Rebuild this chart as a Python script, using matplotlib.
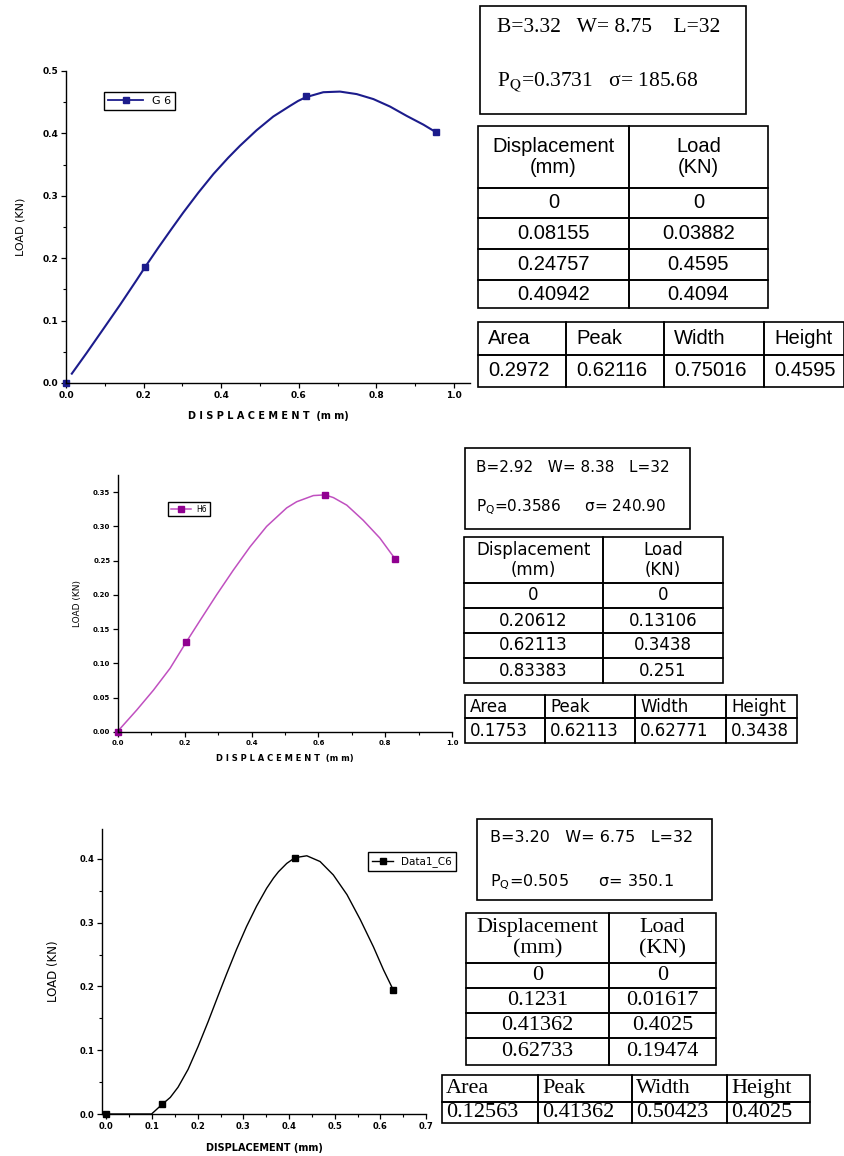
import matplotlib
matplotlib.use("Agg")
import matplotlib.pyplot as plt
from matplotlib.patches import Rectangle
from matplotlib.ticker import MultipleLocator, FormatStrFormatter

# ---------------- données ----------------
g6_x = [0.0, 0.204, 0.618, 0.953]
g6_y = [0.0, 0.186, 0.460, 0.402]
g6_curve_x = [0.015, 0.053, 0.100, 0.139, 0.182, 0.204, 0.238, 0.272, 0.302, 0.341,
              0.380, 0.418, 0.448, 0.491, 0.534, 0.577, 0.598, 0.618, 0.663, 0.706,
              0.749, 0.792, 0.835, 0.878, 0.921, 0.953]
g6_curve_y = [0.015, 0.048, 0.090, 0.125, 0.165, 0.186, 0.217, 0.247, 0.273, 0.305,
              0.335, 0.361, 0.380, 0.405, 0.427, 0.444, 0.452, 0.458, 0.466, 0.467,
              0.463, 0.455, 0.443, 0.428, 0.414, 0.402]

# H6
h6_x = [0.0, 0.204, 0.620, 0.829]
h6_y = [0.0, 0.131, 0.346, 0.253]
h6_curve_x = [0.001, 0.056, 0.106, 0.156, 0.204, 0.246, 0.295, 0.345, 0.395,
              0.445, 0.485, 0.505, 0.535, 0.585, 0.620, 0.645, 0.685, 0.734, 0.784,
              0.829]
h6_curve_y = [0.002, 0.032, 0.061, 0.093, 0.131, 0.163, 0.200, 0.236, 0.270,
              0.300, 0.318, 0.327, 0.336, 0.345, 0.346, 0.342, 0.331, 0.309, 0.283,
              0.253]

# Data1_C6
c6_x = [0.0, 0.122, 0.413, 0.628]
c6_y = [0.0, 0.015, 0.402, 0.195]
c6_curve_x = [0.0, 0.099, 0.122, 0.140, 0.157, 0.179, 0.201, 0.223, 0.245, 0.263,
              0.285, 0.307, 0.329, 0.351, 0.366, 0.377, 0.395, 0.413, 0.439, 0.468,
              0.497, 0.527, 0.556, 0.585, 0.607, 0.628]
c6_curve_y = [0.0, 0.0, 0.015, 0.026, 0.042, 0.070, 0.106, 0.145, 0.186, 0.219,
              0.258, 0.294, 0.326, 0.354, 0.370, 0.380, 0.393, 0.402, 0.405, 0.396,
              0.375, 0.344, 0.305, 0.262, 0.226, 0.195]

# tableaux
g6_params = ["B=3.32   W= 8.75    L=32", r"P$_{\rm Q}$=0.3731   σ= 185.68"]
g6_disp = ["0", "0.08155", "0.24757", "0.40942"]
g6_load = ["0", "0.03882", "0.4595", "0.4094"]
g6_peak = ["0.2972", "0.62116", "0.75016", "0.4595"]

h6_params = ["B=2.92   W= 8.38   L=32", r"P$_{\rm Q}$=0.3586     σ= 240.90"]
h6_disp = ["0", "0.20612", "0.62113", "0.83383"]
h6_load = ["0", "0.13106", "0.3438", "0.251"]
h6_peak = ["0.1753", "0.62113", "0.62771", "0.3438"]

c6_params = ["B=3.20   W= 6.75   L=32", r"P$_{\rm Q}$=0.505      σ= 350.1"]
c6_disp = ["0", "0.1231", "0.41362", "0.62733"]
c6_load = ["0", "0.01617", "0.4025", "0.19474"]
c6_peak = ["0.12563", "0.41362", "0.50423", "0.4025"]

table_header = ["Displacement\n(mm)", "Load\n(KN)"]
peak_header = ["Area", "Peak", "Width", "Height"]

# ---------------- mise en page ----------------
W, H = 845, 1156
fig = plt.figure(figsize=(W / 100, H / 100), dpi=100)


def px_axes(left, top, right, bottom):
    return fig.add_axes([left / W, 1 - bottom / H, (right - left) / W, (bottom - top) / H])


def style_axes(ax, xmaj, xmin, ymaj, ymin, xfmt, yfmt, tsize):
    for s in ["top", "right"]:
        ax.spines[s].set_visible(False)
    for s in ["left", "bottom"]:
        ax.spines[s].set_linewidth(1.0)
    ax.xaxis.set_major_locator(MultipleLocator(xmaj))
    ax.xaxis.set_minor_locator(MultipleLocator(xmin))
    ax.yaxis.set_major_locator(MultipleLocator(ymaj))
    ax.yaxis.set_minor_locator(MultipleLocator(ymin))
    ax.xaxis.set_major_formatter(FormatStrFormatter(xfmt))
    ax.yaxis.set_major_formatter(FormatStrFormatter(yfmt))
    ax.tick_params(which="major", direction="out", length=3.5, width=0.9,
                   labelsize=tsize, pad=2)
    ax.tick_params(which="minor", direction="out", length=2, width=0.8)
    for lab in ax.get_xticklabels() + ax.get_yticklabels():
        lab.set_fontweight("bold")


# ---- graphe 1 : G6
ax1 = px_axes(66, 71, 470, 383)
ax1.plot(g6_curve_x, g6_curve_y, color="#1c1c8c", lw=1.5)
ax1.plot(g6_x, g6_y, ls="none", marker="s", ms=5, color="#1c1c8c", clip_on=False)
ax1.plot([], [], color="#1c1c8c", lw=1.3, marker="s", ms=5, label="G 6")
ax1.set_xlim(0, 1.041)
ax1.set_ylim(0, 0.5)
style_axes(ax1, 0.2, 0.1, 0.1, 0.05, "%.1f", "%.1f", 6.5)
ax1.set_xlabel("D I S P L A C E M E N T  (m m)", fontsize=7, fontweight="bold", labelpad=8)
ax1.set_ylabel("LOAD (KN)", fontsize=8, labelpad=12)
ax1.legend(loc="upper left", bbox_to_anchor=(0.094, 0.933), borderaxespad=0,
           fancybox=False, edgecolor="black", framealpha=1, fontsize=8,
           handlelength=3.2, borderpad=0.35).get_frame().set_linewidth(1.0)

# ---- graphe 2 : H6
ax2 = px_axes(118, 475, 452, 732)
ax2.plot(h6_curve_x, h6_curve_y, color="#c050c0", lw=1.1)
ax2.plot(h6_x, h6_y, ls="none", marker="s", ms=4, color="#900090", clip_on=False)
ax2.plot([], [], color="#c050c0", lw=1.1, marker="s", ms=4, mfc="#900090",
         mec="#900090", label="H6")
ax2.set_xlim(0, 1.0)
ax2.set_ylim(0, 0.375)
style_axes(ax2, 0.2, 0.1, 0.05, 0.025, "%.1f", "%.2f", 5)
ax2.tick_params(which="minor", left=False)
ax2.set_xlabel("D I S P L A C E M E N T  (m m)", fontsize=6, fontweight="bold", labelpad=6)
ax2.set_ylabel("LOAD (KN)", fontsize=6.5, labelpad=8)
ax2.legend(loc="upper left", bbox_to_anchor=(0.150, 0.895), borderaxespad=0,
           fancybox=False, edgecolor="black", framealpha=1, fontsize=5.5,
           handlelength=2.6, borderpad=0.35).get_frame().set_linewidth(1.0)

# ---- graphe 3 : Data1_C6
ax3 = px_axes(102, 829, 426, 1114)
ax3.plot(c6_curve_x, c6_curve_y, color="black", lw=1.0)
ax3.plot(c6_x, c6_y, ls="none", marker="s", ms=5, color="black", clip_on=False)
ax3.plot([], [], color="black", lw=1.0, marker="s", ms=5, label="Data1_C6")
ax3.set_xlim(-0.0095, 0.7)
ax3.set_ylim(0, 0.447)
style_axes(ax3, 0.1, 0.05, 0.1, 0.05, "%.1f", "%.1f", 6)
ax3.set_xlabel("DISPLACEMENT (mm)", fontsize=7, fontweight="bold", labelpad=9)
ax3.set_ylabel("LOAD (KN)", fontsize=8.5, labelpad=14)
ax3.legend(loc="upper left", bbox_to_anchor=(0.821, 0.919), borderaxespad=0,
           fancybox=False, edgecolor="black", framealpha=1, fontsize=7.5,
           handlelength=2.0, borderpad=0.4).get_frame().set_linewidth(1.0)

# ---------------- tableaux (calque en pixels) ----------------
ov = fig.add_axes([0, 0, 1, 1])
ov.set_xlim(0, W)
ov.set_ylim(H, 0)
ov.axis("off")
ov.patch.set_alpha(0)


def draw_box(x0, y0, x1, y1, lines, ys, tx, family, size, math):
    ov.add_patch(Rectangle((x0, y0), x1 - x0, y1 - y0, fill=False, ec="black", lw=1.2))
    for txt, y in zip(lines, ys):
        ov.text(tx, y, txt, ha="left", va="center", family=family, fontsize=size,
                math_fontfamily=math)


def draw_table(x_edges, y_edges, rows, family, size, align="center", pad=5, lw=1.2):
    for i in range(len(y_edges) - 1):
        for j in range(len(x_edges) - 1):
            x0, x1 = x_edges[j], x_edges[j + 1]
            y0, y1 = y_edges[i], y_edges[i + 1]
            ov.add_patch(Rectangle((x0, y0), x1 - x0, y1 - y0, fill=False,
                                   ec="black", lw=lw))
            cy = (y0 + y1) / 2
            if align == "center":
                ov.text((x0 + x1) / 2, cy, rows[i][j], ha="center", va="center",
                        family=family, fontsize=size, linespacing=1.15)
            else:
                ov.text(x0 + pad, cy, rows[i][j], ha="left", va="center",
                        family=family, fontsize=size)


# bloc G6
draw_box(480, 6, 746, 114, g6_params, [28, 82], 497, "Liberation Serif", 15.5, "stix")
draw_table([478, 629, 768], [126, 188, 218, 249, 280, 308],
           [table_header] + [[d, l] for d, l in zip(g6_disp, g6_load)],
           "Liberation Sans", 14.5)
draw_table([478, 566, 664, 764, 844], [322, 355, 387],
           [peak_header, g6_peak], "Liberation Sans", 14.5, align="left", pad=10)

# bloc H6
draw_box(465, 448, 690, 529, h6_params, [468, 507], 476, "DejaVu Sans", 11, "dejavusans")
draw_table([464, 603, 723], [537, 583, 608, 633, 658, 683],
           [table_header] + [[d, l] for d, l in zip(h6_disp, h6_load)],
           "DejaVu Sans", 12)
draw_table([465, 545, 635, 726, 797], [695, 718, 743],
           [peak_header, h6_peak], "DejaVu Sans", 12, align="left", pad=5)

# bloc C6
draw_box(477, 819, 712, 900, c6_params, [838, 882], 490, "DejaVu Sans", 11.5, "dejavusans")
draw_table([466, 609, 716], [913, 963, 988, 1013, 1038, 1065],
           [table_header] + [[d, l] for d, l in zip(c6_disp, c6_load)],
           "Liberation Serif", 16)
draw_table([442, 538, 632, 727, 810], [1075, 1102, 1123],
           [peak_header, c6_peak], "Liberation Serif", 16, align="left", pad=4)

fig.savefig("out.png", dpi=100)
